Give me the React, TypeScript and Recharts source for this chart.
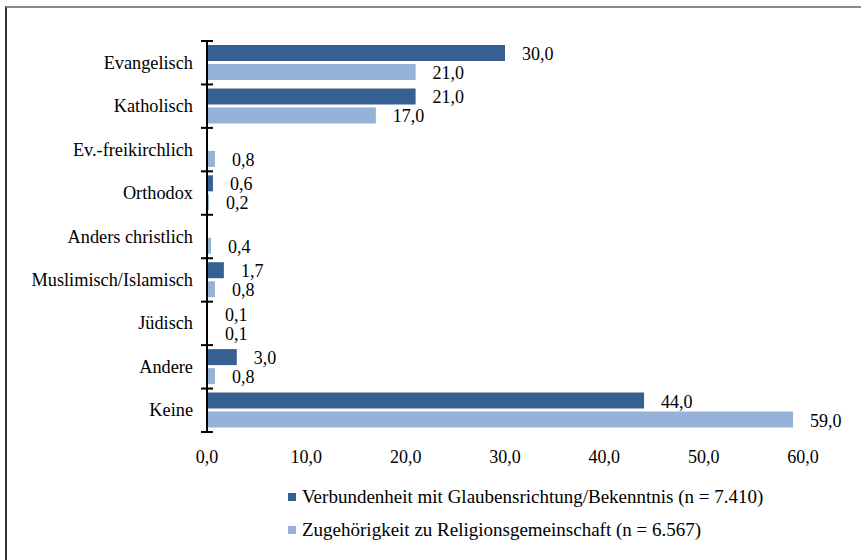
import { Bar, BarChart, LabelList, XAxis, YAxis } from "recharts";

const categories = [
  "Evangelisch",
  "Katholisch",
  "Ev.-freikirchlich",
  "Orthodox",
  "Anders christlich",
  "Muslimisch/Islamisch",
  "Jüdisch",
  "Andere",
  "Keine",
];
const verbundenheit = [30.0, 21.0, null, 0.6, null, 1.7, 0.1, 3.0, 44.0];
const zugehoerigkeit = [21.0, 17.0, 0.8, 0.2, 0.4, 0.8, 0.1, 0.8, 59.0];
const xTicks = [0, 10, 20, 30, 40, 50, 60];

const seriesNames = [
  "Verbundenheit mit Glaubensrichtung/Bekenntnis (n = 7.410)",
  "Zugehörigkeit zu Religionsgemeinschaft (n = 6.567)",
];
const DARK = "#376092";
const LIGHT = "#95B3D7";
const FONT = '"Liberation Serif", serif';

const W = 861;
const H = 560;
const PLOT_TOP = 41;
const PLOT_BOTTOM = 432;
const PLOT_LEFT = 207;
const PLOT_RIGHT = 803;
const BAND = (PLOT_BOTTOM - PLOT_TOP) / categories.length;

const data = categories.map((name, i) => ({
  name,
  verb: verbundenheit[i],
  zug: zugehoerigkeit[i],
}));

const fmt = (v: number) => v.toFixed(1).replace(".", ",");

// category label plus the little boundary ticks crossing the axis
function CategoryTick(props: any) {
  const { y, payload, index } = props;
  const top = y - BAND / 2;
  return (
    <g>
      <line x1={PLOT_LEFT - 6} x2={PLOT_LEFT + 6} y1={top} y2={top} stroke="#000" strokeWidth={2} />
      {index === categories.length - 1 && (
        <line
          x1={PLOT_LEFT - 6}
          x2={PLOT_LEFT + 6}
          y1={top + BAND}
          y2={top + BAND}
          stroke="#000"
          strokeWidth={2}
        />
      )}
      <text
        x={PLOT_LEFT - 14}
        y={y}
        textAnchor="end"
        dominantBaseline="central"
        style={{ fontFamily: FONT }}
        fontSize={18.3}
        fill="#000"
      >
        {payload.value}
      </text>
    </g>
  );
}

function ValueLabel(props: any) {
  const { x, y, width, height, value } = props;
  if (value == null) return null;
  return (
    <text
      x={x + width + 17}
      y={y + height / 2 + 1}
      dominantBaseline="central"
      style={{ fontFamily: FONT }}
      fontSize={18}
      fill="#000"
    >
      {fmt(value)}
    </text>
  );
}

export default function App() {
  return (
    <div
      style={{
        position: "absolute",
        left: 0,
        top: 0,
        width: W,
        height: H,
        background: "#fff",
        fontFamily: FONT,
      }}
    >
      <div
        style={{
          position: "absolute",
          left: 5,
          top: 6,
          right: 0,
          bottom: 0,
          borderTop: "2px solid #8a8a8a",
          borderLeft: "2px solid #333",
        }}
      />
      <BarChart
        width={W}
        height={H}
        data={data}
        layout="vertical"
        margin={{ top: PLOT_TOP, right: W - PLOT_RIGHT, bottom: H - PLOT_BOTTOM - 30, left: 6 }}
        barSize={16}
        barGap={3}
        style={{ position: "absolute", left: 0, top: 0 }}
      >
        <XAxis
          type="number"
          domain={[0, 60]}
          ticks={xTicks}
          tickFormatter={fmt}
          axisLine={false}
          tickLine={false}
          tickMargin={12}
          height={30}
          tick={{ fill: "#000", fontSize: 18, style: { fontFamily: FONT } }}
          interval={0}
        />
        <YAxis
          type="category"
          dataKey="name"
          width={PLOT_LEFT - 6}
          axisLine={{ stroke: "#000", strokeWidth: 2 }}
          tickLine={false}
          tick={<CategoryTick />}
          interval={0}
        />
        <Bar dataKey="verb" fill={DARK} isAnimationActive={false}>
          <LabelList dataKey="verb" content={<ValueLabel />} />
        </Bar>
        <Bar dataKey="zug" fill={LIGHT} isAnimationActive={false}>
          <LabelList dataKey="zug" content={<ValueLabel />} />
        </Bar>
      </BarChart>
      {seriesNames.map((name, i) => (
        <div
          key={name}
          style={{
            position: "absolute",
            left: 288,
            top: 486 + i * 33,
            height: 22,
            display: "flex",
            alignItems: "center",
            fontSize: 19,
            color: "#000",
            whiteSpace: "nowrap",
          }}
        >
          <span
            style={{
              display: "inline-block",
              width: 8,
              height: 8,
              background: i === 0 ? DARK : LIGHT,
              marginRight: 6,
            }}
          />
          {name}
        </div>
      ))}
    </div>
  );
}
